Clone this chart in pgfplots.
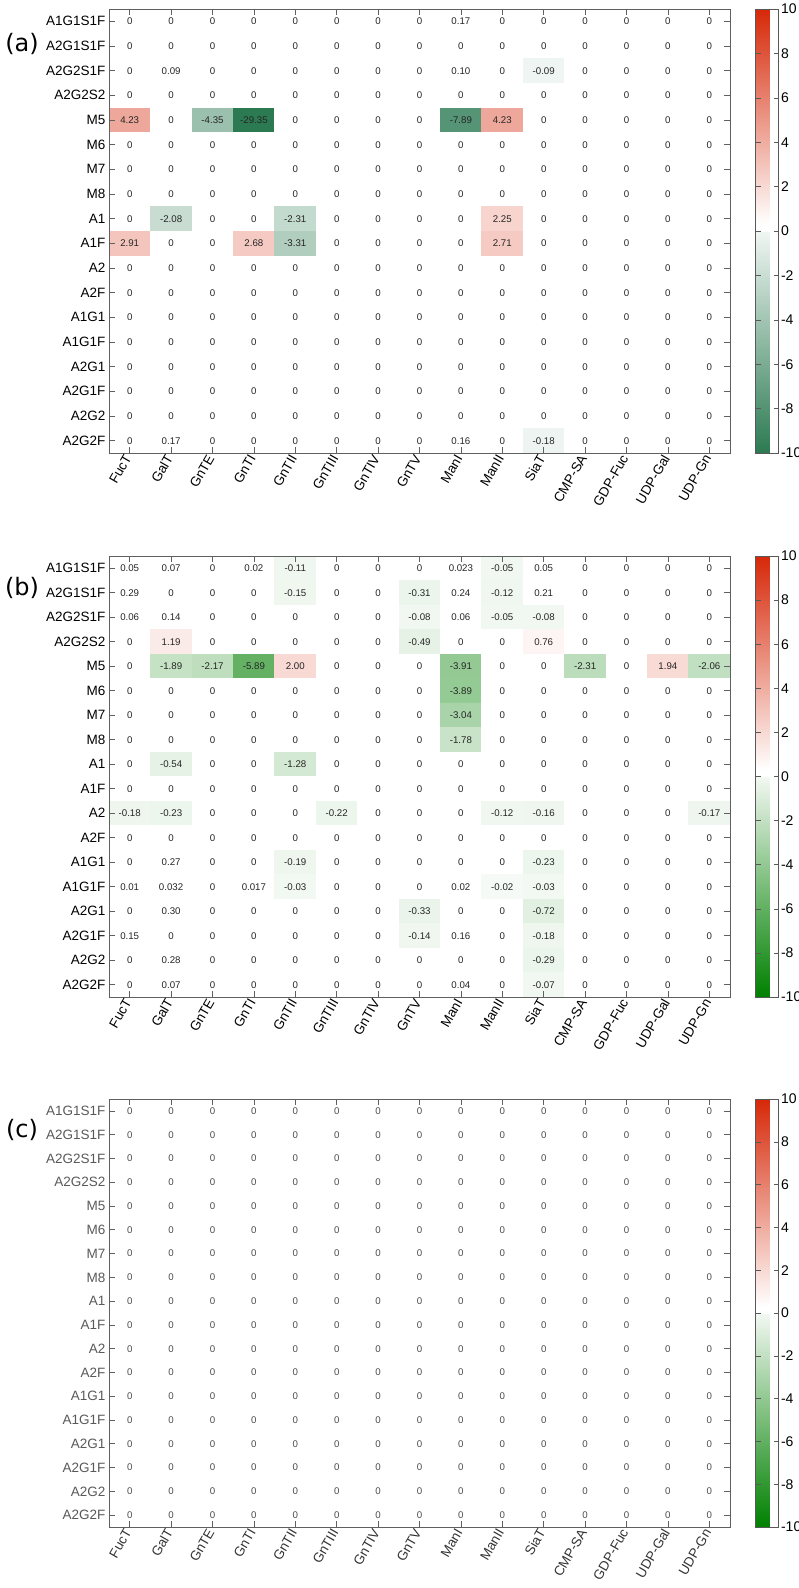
\documentclass[border=0pt]{standalone}
\usepackage{pgfplots}
\pgfplotsset{compat=1.18}
\usepackage{pgfplotstable}
\usepackage{fontspec}
\setmainfont{Liberation Sans}
\newfontfamily\labfont{DejaVu Sans}

% rows: A1G1S1F A2G1S1F A2G2S1F A2G2S2 M5 M6 M7 M8 A1 A1F A2 A2F A1G1 A1G1F A2G1 A2G1F A2G2 A2G2F
% cols: FucT GalT GnTE GnTI GnTII GnTIII GnTIV GnTV ManI ManII SiaT CMP-SA GDP-Fuc UDP-Gal UDP-Gn
\pgfplotstableread{
c0 c1 c2 c3 c4 c5 c6 c7 c8 c9 c10 c11 c12 c13 c14
0 0 0 0 0 0 0 0 0.17 0 0 0 0 0 0
0 0 0 0 0 0 0 0 0 0 0 0 0 0 0
0 0.09 0 0 0 0 0 0 0.10 0 -0.09 0 0 0 0
0 0 0 0 0 0 0 0 0 0 0 0 0 0 0
4.23 0 -4.35 -29.35 0 0 0 0 -7.89 4.23 0 0 0 0 0
0 0 0 0 0 0 0 0 0 0 0 0 0 0 0
0 0 0 0 0 0 0 0 0 0 0 0 0 0 0
0 0 0 0 0 0 0 0 0 0 0 0 0 0 0
0 -2.08 0 0 -2.31 0 0 0 0 2.25 0 0 0 0 0
2.91 0 0 2.68 -3.31 0 0 0 0 2.71 0 0 0 0 0
0 0 0 0 0 0 0 0 0 0 0 0 0 0 0
0 0 0 0 0 0 0 0 0 0 0 0 0 0 0
0 0 0 0 0 0 0 0 0 0 0 0 0 0 0
0 0 0 0 0 0 0 0 0 0 0 0 0 0 0
0 0 0 0 0 0 0 0 0 0 0 0 0 0 0
0 0 0 0 0 0 0 0 0 0 0 0 0 0 0
0 0 0 0 0 0 0 0 0 0 0 0 0 0 0
0 0.17 0 0 0 0 0 0 0.16 0 -0.18 0 0 0 0
}\tabA

\pgfplotstableread{
c0 c1 c2 c3 c4 c5 c6 c7 c8 c9 c10 c11 c12 c13 c14
0.05 0.07 0 0.02 -0.11 0 0 0 0.023 -0.05 0.05 0 0 0 0
0.29 0 0 0 -0.15 0 0 -0.31 0.24 -0.12 0.21 0 0 0 0
0.06 0.14 0 0 0 0 0 -0.08 0.06 -0.05 -0.08 0 0 0 0
0 1.19 0 0 0 0 0 -0.49 0 0 0.76 0 0 0 0
0 -1.89 -2.17 -5.89 2.00 0 0 0 -3.91 0 0 -2.31 0 1.94 -2.06
0 0 0 0 0 0 0 0 -3.89 0 0 0 0 0 0
0 0 0 0 0 0 0 0 -3.04 0 0 0 0 0 0
0 0 0 0 0 0 0 0 -1.78 0 0 0 0 0 0
0 -0.54 0 0 -1.28 0 0 0 0 0 0 0 0 0 0
0 0 0 0 0 0 0 0 0 0 0 0 0 0 0
-0.18 -0.23 0 0 0 -0.22 0 0 0 -0.12 -0.16 0 0 0 -0.17
0 0 0 0 0 0 0 0 0 0 0 0 0 0 0
0 0.27 0 0 -0.19 0 0 0 0 0 -0.23 0 0 0 0
0.01 0.032 0 0.017 -0.03 0 0 0 0.02 -0.02 -0.03 0 0 0 0
0 0.30 0 0 0 0 0 -0.33 0 0 -0.72 0 0 0 0
0.15 0 0 0 0 0 0 -0.14 0.16 0 -0.18 0 0 0 0
0 0.28 0 0 0 0 0 0 0 0 -0.29 0 0 0 0
0 0.07 0 0 0 0 0 0 0.04 0 -0.07 0 0 0 0
}\tabB

\pgfplotstableread{
c0 c1 c2 c3 c4 c5 c6 c7 c8 c9 c10 c11 c12 c13 c14
0 0 0 0 0 0 0 0 0 0 0 0 0 0 0
0 0 0 0 0 0 0 0 0 0 0 0 0 0 0
0 0 0 0 0 0 0 0 0 0 0 0 0 0 0
0 0 0 0 0 0 0 0 0 0 0 0 0 0 0
0 0 0 0 0 0 0 0 0 0 0 0 0 0 0
0 0 0 0 0 0 0 0 0 0 0 0 0 0 0
0 0 0 0 0 0 0 0 0 0 0 0 0 0 0
0 0 0 0 0 0 0 0 0 0 0 0 0 0 0
0 0 0 0 0 0 0 0 0 0 0 0 0 0 0
0 0 0 0 0 0 0 0 0 0 0 0 0 0 0
0 0 0 0 0 0 0 0 0 0 0 0 0 0 0
0 0 0 0 0 0 0 0 0 0 0 0 0 0 0
0 0 0 0 0 0 0 0 0 0 0 0 0 0 0
0 0 0 0 0 0 0 0 0 0 0 0 0 0 0
0 0 0 0 0 0 0 0 0 0 0 0 0 0 0
0 0 0 0 0 0 0 0 0 0 0 0 0 0 0
0 0 0 0 0 0 0 0 0 0 0 0 0 0 0
0 0 0 0 0 0 0 0 0 0 0 0 0 0 0
}\tabC

\pgfdeclareplotmark{cellA}{\pgfpathrectangle{\pgfqpoint{-20.7pt}{-12.333pt}}{\pgfqpoint{41.4pt}{24.667pt}}\pgfusepathqfillstroke}
\pgfdeclareplotmark{cellB}{\pgfpathrectangle{\pgfqpoint{-20.7pt}{-12.25pt}}{\pgfqpoint{41.4pt}{24.5pt}}\pgfusepathqfillstroke}
\pgfdeclareplotmark{cellC}{\pgfpathrectangle{\pgfqpoint{-20.7pt}{-11.86pt}}{\pgfqpoint{41.4pt}{23.72pt}}\pgfusepathqfillstroke}

\pgfplotsset{
  colormap={rwgB}{rgb255(0cm)=(0,128,0) rgb255(9.97cm)=(242,248,242) rgb255(10cm)=(255,255,255) rgb255(10.3cm)=(255,255,255) rgb255(20cm)=(214,40,8)},
  colormap={rwgA}{rgb255(0cm)=(44,122,82) rgb255(9.97cm)=(240,246,243) rgb255(10cm)=(255,255,255) rgb255(10.3cm)=(255,255,255) rgb255(20cm)=(214,40,8)},
  hm/.style={
    axis on top, clip marker paths=true,
    scale only axis, width=621pt,
    xmin=-0.5, xmax=14.5, ymin=-0.5, ymax=17.5, y dir=reverse,
    xtick={0,...,14}, ytick={0,...,17},
    xticklabels={FucT,GalT,GnTE,GnTI,GnTII,GnTIII,GnTIV,GnTV,ManI,ManII,SiaT,CMP-SA,GDP-Fuc,UDP-Gal,UDP-Gn},
    yticklabels={A1G1S1F,A2G1S1F,A2G2S1F,A2G2S2,M5,M6,M7,M8,A1,A1F,A2,A2F,A1G1,A1G1F,A2G1,A2G1F,A2G2,A2G2F},
    tick align=inside, major tick length=6pt,
    tick style={gray!75!black, line width=0.7pt},
    axis line style={gray!75!black, line width=1pt},
    xticklabel style={rotate=60, anchor=east, font=\fontsize{13.5}{14}\selectfont},
    yticklabel style={font=\fontsize{13.5}{14}\selectfont},
    point meta min=-10, point meta max=10,
    colorbar,
    colorbar style={
      at={(parent axis.north east)}, anchor=north west, xshift=17pt,
      scale only axis, width=23pt,
      ytick={-10,-8,...,10},
      yticklabels={-10,-8,-6,-4,-2,0,2,4,6,8,10},
      ytick pos=both, yticklabel pos=right,
      yticklabel style={font=\fontsize{14}{15}\selectfont, xshift=-1pt},
      tick align=inside, major tick length=5pt,
      tick style={gray!70!black, line width=0.6pt},
      axis line style={gray!70!black, line width=0.8pt},
    },
  },
  cellplot/.style={
    scatter, only marks, scatter src=explicit,
    scatter/use mapped color={draw=mapped color, fill=mapped color},
    mark options={line width=0.3pt},
  },
  textplot/.style={
    only marks, mark=none, point meta=explicit symbolic,
    nodes near coords,
    nodes near coords style={anchor=center, inner sep=0pt,
      font=\fontsize{9.7}{10}\selectfont, text=black!85},
  },
}

\begin{document}
\begin{tikzpicture}
\useasboundingbox (0pt,0pt) rectangle (799pt,-1588pt);

\begin{axis}[hm, at={(109pt,-9pt)}, anchor=north west, height=444pt, colormap name=rwgA]
\pgfplotsinvokeforeach{0,...,14}{
  \addplot[cellplot, mark=cellA] table[x expr=#1, y expr=\coordindex, meta=c#1] {\tabA};
  \addplot[textplot] table[x expr=#1, y expr=\coordindex, meta=c#1] {\tabA};
}
\end{axis}

\begin{axis}[hm, at={(109pt,-556pt)}, anchor=north west, height=441pt, colormap name=rwgB]
\pgfplotsinvokeforeach{0,...,14}{
  \addplot[cellplot, mark=cellB] table[x expr=#1, y expr=\coordindex, meta=c#1] {\tabB};
  \addplot[textplot] table[x expr=#1, y expr=\coordindex, meta=c#1] {\tabB};
}
\end{axis}

\begin{axis}[hm, at={(109pt,-1099pt)}, anchor=north west, height=428pt, colormap name=rwgB,
  yticklabel style={text=black!65}, xticklabel style={text=black!80}]
\pgfplotsinvokeforeach{0,...,14}{
  \addplot[cellplot, mark=cellC] table[x expr=#1, y expr=\coordindex, meta=c#1] {\tabC};
  \addplot[textplot, nodes near coords style={text=black!70}] table[x expr=#1, y expr=\coordindex, meta=c#1] {\tabC};
}
\end{axis}

\node[font=\labfont\fontsize{24}{26}\selectfont] at (22pt,-44pt) {(a)};
\node[font=\labfont\fontsize{24}{26}\selectfont] at (22pt,-588pt) {(b)};
\node[font=\labfont\fontsize{24}{26}\selectfont] at (22pt,-1130pt) {(c)};
\end{tikzpicture}
\end{document}
